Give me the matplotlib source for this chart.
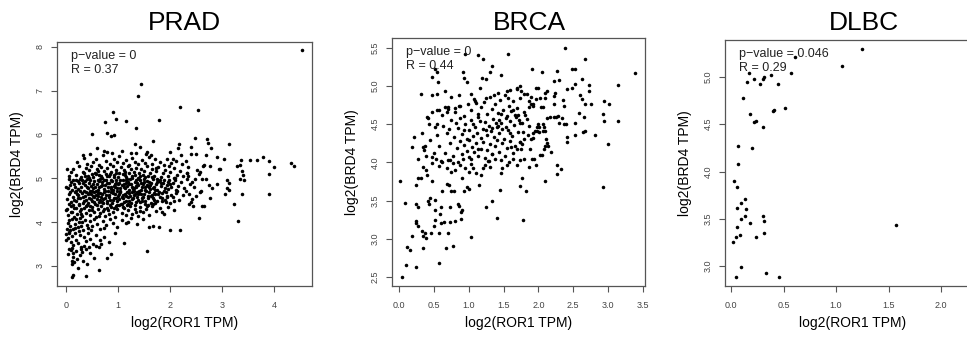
import matplotlib
matplotlib.use('Agg')
import matplotlib.pyplot as plt

plt.rcParams['font.family'] = ['Liberation Sans', 'DejaVu Sans']

# Dados (log2 TPM): (ROR1, BRD4)
prad_pontos = [
    # pontos esparsos / extremos
    (4.54, 7.92), (1.44, 7.15), (1.38, 6.88), (2.20, 6.62), (2.54, 6.56), (0.90, 6.52), (0.97, 6.35),
    (0.76, 6.29), (1.16, 6.30), (1.79, 6.32), (1.35, 6.15), (0.50, 6.00), (0.79, 6.03), (0.87, 5.97),
    (0.93, 5.98), (0.60, 5.68), (1.43, 5.72), (1.67, 5.85), (2.17, 5.79), (2.48, 5.92), (2.15, 5.68),
    (0.33, 5.53), (0.74, 5.63), (0.80, 5.60), (1.08, 5.63), (1.32, 5.78), (1.34, 5.58), (1.54, 5.55),
    (1.56, 5.61), (2.00, 5.61), (2.06, 5.44), (2.21, 5.52), (2.41, 5.56),
    (2.71, 5.89), (2.74, 5.81), (2.40, 5.72), (2.78, 5.68), (3.13, 5.79), (2.50, 5.56), (2.70, 5.54),
    (2.90, 5.48), (3.03, 5.44), (3.37, 5.41), (3.54, 5.41), (3.67, 5.41), (3.79, 5.48), (3.91, 5.39),
    (4.00, 5.25), (4.32, 5.34), (4.38, 5.28), (3.29, 5.28), (3.34, 5.31), (3.39, 5.17), (3.41, 5.08),
    (3.43, 4.95), (3.34, 4.99), (3.90, 5.09), (3.90, 4.64), (3.39, 4.64), (3.23, 4.42), (3.30, 4.02),
    (3.09, 4.96), (3.14, 4.89), (3.10, 4.77), (3.13, 4.74), (3.05, 4.63), (2.94, 5.22), (2.97, 5.21),
    (2.90, 4.87), (2.77, 5.27), (2.63, 5.28), (2.65, 5.31), (2.56, 5.10), (2.57, 5.15), (2.52, 5.19),
    (2.62, 4.99), (2.70, 4.99), (2.75, 4.84), (2.80, 4.77), (2.77, 4.55), (2.59, 4.72), (2.58, 4.69),
    (2.50, 4.59), (2.43, 4.52), (2.40, 4.45), (2.37, 4.42), (2.44, 4.36), (2.61, 4.36), (2.65, 4.36),
    (2.56, 4.10), (2.33, 4.99), (2.35, 5.05), (2.32, 5.13), (2.30, 5.40), (2.34, 5.25), (2.42, 4.92),
    (2.47, 4.80), (2.48, 4.98), (2.38, 4.86), (2.31, 4.70), (2.37, 4.64),
    (1.56, 3.33), (1.12, 3.53), (0.63, 2.90), (0.39, 2.76), (0.12, 2.75), (0.13, 2.78), (0.23, 2.95),
    (0.21, 3.16), (0.38, 3.38), (0.54, 3.19), (0.79, 3.19), (0.87, 3.26), (0.64, 3.42), (0.67, 3.49),
    (0.58, 3.46), (2.00, 3.82), (2.19, 3.82), (1.79, 3.89), (1.60, 3.89), (0.00, 3.59), (0.06, 3.38),
    (0.12, 3.12), (0.14, 3.29), (0.31, 3.31), (0.41, 3.04), (0.35, 3.46), (0.08, 3.82), (0.06, 3.75),
    (0.03, 4.29), (0.10, 4.24), (0.02, 5.21), (0.10, 5.15), (0.06, 4.99), (0.01, 4.81),
    # faixa 5.3 - 5.6
    (0.22, 5.38), (0.35, 5.47), (0.41, 5.32), (0.52, 5.36), (0.58, 5.44), (0.63, 5.31), (0.71, 5.52),
    (0.77, 5.39), (0.84, 5.33), (0.92, 5.45), (0.98, 5.36), (1.03, 5.50), (1.09, 5.34), (1.15, 5.42),
    (1.21, 5.31), (1.27, 5.47), (1.33, 5.38), (1.38, 5.33), (1.46, 5.41), (1.52, 5.35), (1.59, 5.48),
    (1.66, 5.32), (1.72, 5.43), (1.81, 5.37), (1.88, 5.31), (1.95, 5.45), (2.03, 5.34), (2.12, 5.40),
    (2.24, 5.33), (0.47, 5.55), (0.88, 5.58), (1.25, 5.57), (1.63, 5.54),
    # faixa 5.0 - 5.3
    (0.06, 5.05), (0.14, 5.22), (0.19, 5.08), (0.25, 5.27), (0.29, 5.02), (0.33, 5.15), (0.38, 5.24),
    (0.42, 5.06), (0.45, 5.19), (0.49, 5.28), (0.53, 5.03), (0.56, 5.13), (0.60, 5.21), (0.64, 5.08),
    (0.67, 5.26), (0.70, 5.01), (0.73, 5.17), (0.77, 5.10), (0.80, 5.23), (0.83, 5.04), (0.87, 5.14),
    (0.90, 5.29), (0.93, 5.07), (0.96, 5.19), (1.00, 5.02), (1.03, 5.12), (1.06, 5.25), (1.09, 5.09),
    (1.12, 5.18), (1.16, 5.03), (1.19, 5.27), (1.22, 5.11), (1.25, 5.20), (1.28, 5.05), (1.31, 5.15),
    (1.35, 5.24), (1.38, 5.01), (1.41, 5.13), (1.44, 5.22), (1.48, 5.07), (1.51, 5.17), (1.55, 5.28),
    (1.58, 5.04), (1.62, 5.12), (1.66, 5.21), (1.70, 5.06), (1.74, 5.16), (1.78, 5.26), (1.82, 5.02),
    (1.86, 5.11), (1.91, 5.19), (1.96, 5.05), (2.01, 5.14), (2.07, 5.23), (2.13, 5.08), (2.19, 5.17),
    (2.26, 5.04), (2.32, 5.12), (0.36, 5.04), (0.62, 5.16), (0.85, 5.10), (1.14, 5.14), (1.33, 5.08),
    (1.52, 5.02), (1.73, 5.24), (1.98, 5.27), (0.51, 5.10), (0.97, 5.12), (1.43, 5.06), (2.10, 5.01),
    # faixa 4.7 - 5.0
    (0.04, 4.78), (0.09, 4.92), (0.12, 4.73), (0.16, 4.86), (0.20, 4.97), (0.23, 4.75), (0.26, 4.89),
    (0.29, 4.81), (0.31, 4.95), (0.34, 4.72), (0.37, 4.84), (0.40, 4.98), (0.43, 4.77), (0.45, 4.90),
    (0.48, 4.83), (0.51, 4.71), (0.54, 4.94), (0.56, 4.79), (0.59, 4.87), (0.62, 4.74), (0.65, 4.99),
    (0.67, 4.82), (0.70, 4.91), (0.73, 4.76), (0.75, 4.85), (0.78, 4.96), (0.81, 4.72), (0.83, 4.88),
    (0.86, 4.80), (0.89, 4.93), (0.91, 4.74), (0.94, 4.86), (0.97, 4.97), (0.99, 4.78), (1.02, 4.89),
    (1.05, 4.71), (1.07, 4.84), (1.10, 4.95), (1.13, 4.77), (1.15, 4.90), (1.18, 4.82), (1.21, 4.73),
    (1.23, 4.98), (1.26, 4.86), (1.29, 4.75), (1.32, 4.92), (1.34, 4.81), (1.37, 4.88), (1.40, 4.72),
    (1.43, 4.96), (1.46, 4.79), (1.49, 4.87), (1.52, 4.74), (1.55, 4.93), (1.58, 4.83), (1.61, 4.76),
    (1.64, 4.90), (1.67, 4.98), (1.70, 4.80), (1.73, 4.86), (1.76, 4.73), (1.79, 4.94), (1.83, 4.82),
    (1.86, 4.89), (1.90, 4.77), (1.94, 4.85), (1.98, 4.96), (2.02, 4.79), (2.06, 4.88), (2.11, 4.74),
    (2.16, 4.83), (2.21, 4.92), (2.27, 4.78), (0.18, 4.79), (0.33, 4.88), (0.47, 4.96), (0.58, 4.72),
    (0.69, 4.85), (0.80, 4.90), (0.92, 4.82), (1.04, 4.78), (1.16, 4.97), (1.27, 4.80), (1.39, 4.84),
    (1.50, 4.98), (1.62, 4.85), (1.75, 4.91), (1.88, 4.72), (2.00, 4.86), (0.27, 4.72), (0.41, 4.81),
    (0.63, 4.93), (0.87, 4.76), (1.11, 4.87), (1.31, 4.78), (1.53, 4.81), (1.71, 4.74), (1.96, 4.91),
    (2.09, 4.95), (0.74, 4.97), (0.96, 4.89), (1.20, 4.91), (1.45, 4.89), (1.68, 4.77), (0.53, 4.87),
    (1.35, 4.96), (1.81, 4.97), (0.24, 4.94), (0.08, 4.85),
    # faixa 4.4 - 4.7
    (0.02, 4.52), (0.06, 4.63), (0.10, 4.45), (0.13, 4.58), (0.17, 4.68), (0.20, 4.49), (0.23, 4.61),
    (0.26, 4.42), (0.28, 4.55), (0.31, 4.66), (0.34, 4.47), (0.37, 4.59), (0.39, 4.69), (0.42, 4.44),
    (0.45, 4.56), (0.48, 4.64), (0.50, 4.48), (0.53, 4.60), (0.56, 4.41), (0.59, 4.53), (0.61, 4.67),
    (0.64, 4.46), (0.67, 4.57), (0.70, 4.65), (0.72, 4.43), (0.75, 4.54), (0.78, 4.62), (0.80, 4.49),
    (0.83, 4.58), (0.86, 4.69), (0.89, 4.44), (0.92, 4.56), (0.95, 4.63), (0.98, 4.47), (1.01, 4.59),
    (1.04, 4.68), (1.07, 4.42), (1.10, 4.55), (1.13, 4.64), (1.16, 4.48), (1.19, 4.57), (1.22, 4.66),
    (1.25, 4.43), (1.28, 4.52), (1.31, 4.61), (1.34, 4.46), (1.37, 4.58), (1.40, 4.67), (1.43, 4.45),
    (1.46, 4.54), (1.50, 4.63), (1.53, 4.49), (1.57, 4.59), (1.60, 4.68), (1.64, 4.44), (1.68, 4.56),
    (1.72, 4.65), (1.76, 4.47), (1.80, 4.58), (1.85, 4.66), (1.90, 4.51), (1.95, 4.60), (2.00, 4.43),
    (2.05, 4.57), (2.12, 4.66), (2.18, 4.50), (2.26, 4.61), (0.15, 4.50), (0.32, 4.58), (0.44, 4.67),
    (0.57, 4.62), (0.66, 4.50), (0.79, 4.43), (0.90, 4.66), (1.03, 4.52), (1.15, 4.60), (1.27, 4.69),
    (1.39, 4.51), (1.52, 4.42), (1.66, 4.62), (1.79, 4.69), (1.93, 4.45), (0.08, 4.68), (0.24, 4.54),
    (0.49, 4.52), (0.73, 4.68), (0.97, 4.55), (1.21, 4.49), (1.45, 4.65), (1.70, 4.51), (0.38, 4.51),
    (0.62, 4.59), (0.85, 4.51), (1.09, 4.62), (1.33, 4.65), (1.58, 4.54), (1.84, 4.54), (2.08, 4.47),
    (0.55, 4.68), (1.12, 4.45), (1.48, 4.58),
    # faixa 4.1 - 4.4
    (0.01, 4.28), (0.05, 4.17), (0.09, 4.36), (0.12, 4.22), (0.16, 4.12), (0.19, 4.31), (0.22, 4.19),
    (0.25, 4.38), (0.28, 4.25), (0.31, 4.14), (0.35, 4.33), (0.38, 4.21), (0.41, 4.39), (0.44, 4.27),
    (0.47, 4.16), (0.51, 4.34), (0.54, 4.23), (0.58, 4.11), (0.61, 4.30), (0.65, 4.20), (0.68, 4.37),
    (0.72, 4.26), (0.76, 4.13), (0.79, 4.32), (0.83, 4.18), (0.87, 4.35), (0.91, 4.24), (0.95, 4.12),
    (0.99, 4.29), (1.03, 4.38), (1.07, 4.20), (1.11, 4.31), (1.15, 4.15), (1.19, 4.27), (1.24, 4.36),
    (1.28, 4.18), (1.33, 4.29), (1.38, 4.13), (1.43, 4.34), (1.48, 4.22), (1.54, 4.30), (1.60, 4.16),
    (1.66, 4.37), (1.73, 4.25), (1.80, 4.32), (1.88, 4.19), (1.97, 4.35), (2.08, 4.28), (0.14, 4.39),
    (0.30, 4.29), (0.46, 4.37), (0.63, 4.13), (0.81, 4.27), (0.97, 4.37), (1.17, 4.39), (1.35, 4.22),
    (1.57, 4.38), (0.07, 4.05), (0.27, 4.10),
    # faixa 3.8 - 4.1
    (0.02, 3.85), (0.04, 3.97), (0.08, 3.91), (0.11, 4.06), (0.14, 3.83), (0.17, 3.95), (0.20, 4.08),
    (0.23, 3.88), (0.26, 4.01), (0.29, 3.92), (0.33, 3.81), (0.36, 4.04), (0.40, 3.94), (0.43, 3.86),
    (0.47, 4.02), (0.51, 3.90), (0.55, 4.07), (0.60, 3.96), (0.66, 3.84), (0.71, 4.03), (0.77, 3.93),
    (0.84, 4.08), (0.91, 3.98), (0.99, 3.88), (1.07, 4.05), (1.16, 3.97), (1.26, 4.09), (1.37, 3.95),
    (1.49, 4.06), (1.68, 3.92), (0.18, 3.86), (0.31, 3.99), (0.48, 3.82), (0.74, 3.87), (1.20, 4.01),
    # faixa 3.0 - 3.8
    (0.01, 3.72), (0.04, 3.63), (0.06, 3.78), (0.09, 3.55), (0.12, 3.68), (0.14, 3.47), (0.17, 3.74),
    (0.20, 3.60), (0.23, 3.52), (0.27, 3.70), (0.30, 3.44), (0.34, 3.65), (0.38, 3.57), (0.42, 3.76),
    (0.47, 3.62), (0.52, 3.49), (0.58, 3.71), (0.65, 3.58), (0.73, 3.66), (0.82, 3.54), (0.95, 3.75),
    (0.11, 3.41), (0.25, 3.79), (0.44, 3.43),
    (0.05, 3.28), (0.09, 3.36), (0.13, 3.21), (0.16, 3.08), (0.19, 3.33), (0.27, 3.24), (0.33, 3.12),
    (0.46, 3.30), (0.11, 3.05), (0.29, 3.38),
    # núcleo denso (pontos adicionais)
    (0.21, 4.63), (0.27, 4.99), (0.32, 4.44), (0.36, 4.93), (0.39, 4.36), (0.44, 5.01), (0.46, 4.71),
    (0.50, 4.27), (0.52, 4.78), (0.55, 4.57), (0.57, 5.09), (0.60, 4.40), (0.63, 4.81), (0.66, 4.66),
    (0.68, 5.04), (0.71, 4.53), (0.74, 4.30), (0.76, 4.72), (0.79, 5.06), (0.82, 4.61), (0.84, 4.39),
    (0.86, 4.96), (0.88, 4.69), (0.90, 4.50), (0.93, 5.03), (0.95, 4.79), (0.98, 4.40), (1.00, 4.86),
    (1.02, 4.63), (1.05, 4.97), (1.08, 4.58), (1.10, 4.34), (1.12, 4.81), (1.14, 5.07), (1.17, 4.68),
    (1.20, 4.41), (1.22, 4.87), (1.24, 4.60), (1.27, 5.01), (1.30, 4.70), (1.32, 4.38), (1.35, 4.83),
    (1.38, 4.63), (1.41, 4.99), (1.44, 4.74), (1.47, 4.47), (1.50, 4.91), (1.54, 4.71), (1.56, 4.37),
    (1.59, 4.92), (1.63, 4.60), (1.65, 5.03), (1.69, 4.67), (1.72, 4.43), (1.75, 4.98), (1.78, 4.64),
    (1.82, 4.90), (1.85, 4.47), (1.89, 4.97), (1.92, 4.68), (1.97, 4.76), (2.03, 4.62), (2.07, 5.00),
    (2.14, 4.71), (0.15, 4.31), (0.19, 4.71), (0.07, 4.41), (0.13, 4.96), (0.35, 5.11), (0.61, 4.97),
    (0.93, 4.33), (1.18, 4.99), (1.42, 4.26), (1.60, 4.81), (1.84, 4.24), (0.42, 4.63), (0.69, 4.45),
    (0.99, 4.71), (1.29, 4.56), (1.56, 4.85), (0.29, 4.19), (0.54, 4.46), (0.81, 4.81), (1.06, 4.41),
    (1.36, 4.69), (1.67, 4.42), (1.94, 4.57),
]

brca_pontos = [
    # topo e lado esquerdo
    (1.57, 5.42), (1.13, 5.41), (1.20, 5.36), (0.95, 5.42), (0.52, 5.22), (1.33, 5.26), (1.30, 5.19),
    (0.92, 5.19), (0.54, 5.19), (0.47, 5.12), (0.94, 5.10), (1.19, 5.11), (1.25, 5.09), (1.47, 5.14),
    (0.98, 5.05), (0.56, 5.05), (1.16, 4.97), (1.69, 4.97), (1.73, 5.00), (0.66, 4.94), (0.32, 4.89),
    (0.54, 4.90), (0.86, 4.88), (1.03, 4.89), (1.09, 4.80), (1.25, 4.84), (1.42, 4.91), (1.55, 4.94),
    (1.59, 4.95), (0.54, 4.69), (0.48, 4.66), (0.71, 4.73), (0.69, 4.66), (0.81, 4.71), (0.87, 4.74),
    (0.40, 4.60), (0.43, 4.50), (0.54, 4.50), (0.22, 4.33), (0.18, 4.20), (0.35, 4.20), (0.37, 4.21),
    # cauda inferior
    (0.04, 2.50), (0.10, 2.66), (0.24, 2.63), (0.11, 2.89), (0.16, 2.85), (0.58, 2.68), (1.04, 3.02),
    (0.19, 3.03), (0.35, 2.88), (0.67, 2.88), (0.77, 2.91), (0.24, 3.23), (0.25, 3.20), (0.27, 3.17),
    (0.33, 3.10), (0.37, 3.07), (0.46, 3.08), (0.39, 3.01), (0.34, 3.03), (0.50, 3.17), (0.52, 3.24),
    (0.59, 3.33), (0.61, 3.21), (0.65, 3.22), (0.57, 3.07), (0.71, 3.07), (0.73, 3.22), (0.81, 3.23),
    (0.89, 3.26), (0.89, 3.35), (0.91, 3.37), (0.84, 3.45), (0.86, 3.43), (0.73, 3.42), (0.61, 3.42),
    (0.52, 3.38), (0.43, 3.45), (0.41, 3.49), (0.45, 3.53), (0.52, 3.51), (0.08, 3.47), (0.28, 3.42),
    (0.25, 3.46), (0.02, 3.75), (0.24, 3.71), (0.31, 3.80), (0.47, 3.75), (0.62, 3.62), (0.69, 3.72),
    (0.72, 3.70), (0.74, 3.63), (0.79, 3.63), (0.98, 3.68), (0.91, 3.79), (0.94, 3.62), (1.00, 3.65),
    (1.15, 3.70), (1.25, 3.42), (1.34, 3.50), (1.40, 3.27), (1.45, 3.64),
    # faixa 3.8 - 4.1
    (0.50, 4.12), (0.53, 4.05), (0.62, 4.00), (0.57, 3.95), (0.47, 3.99), (0.34, 3.94), (0.28, 3.80),
    (0.40, 3.83), (0.39, 3.90), (0.73, 4.03), (0.69, 3.92), (0.74, 3.88), (0.81, 3.90), (0.78, 3.99),
    (0.85, 4.00), (0.88, 3.96), (0.92, 4.04), (1.00, 4.07), (0.95, 3.93), (1.03, 3.98), (1.01, 3.87),
    (1.06, 3.92), (1.11, 3.86), (1.18, 3.84), (1.21, 3.92), (1.23, 3.97), (1.28, 4.02), (1.31, 3.94),
    (1.33, 4.11), (1.38, 4.04), (1.47, 3.86), (1.48, 3.93), (1.55, 3.96), (1.58, 4.00), (1.63, 4.04),
    (1.69, 3.97), (1.73, 4.03), (1.76, 3.79),
    # nuvem principal, x < 1.75
    (0.62, 4.62), (0.71, 4.70), (0.80, 4.66), (0.86, 4.74), (0.93, 4.61), (0.99, 4.77), (1.04, 4.68),
    (1.08, 4.83), (1.13, 4.64), (1.17, 4.72), (1.22, 4.79), (1.26, 4.63), (1.30, 4.86), (1.34, 4.70),
    (1.38, 4.76), (1.42, 4.65), (1.45, 4.82), (1.49, 4.69), (1.52, 4.88), (1.55, 4.61), (1.58, 4.74),
    (1.61, 4.67), (1.64, 4.80), (1.67, 4.62), (1.70, 4.71), (1.73, 4.85), (1.47, 4.63), (1.63, 4.69),
    (1.71, 4.62), (1.57, 4.85), (1.36, 4.88), (1.11, 4.78),
    (0.55, 4.36), (0.63, 4.48), (0.69, 4.39), (0.75, 4.55), (0.79, 4.33), (0.84, 4.45), (0.88, 4.58),
    (0.91, 4.37), (0.95, 4.50), (0.98, 4.31), (1.01, 4.43), (1.04, 4.56), (1.06, 4.35), (1.09, 4.47),
    (1.12, 4.39), (1.14, 4.59), (1.17, 4.32), (1.20, 4.44), (1.23, 4.53), (1.26, 4.36), (1.29, 4.48),
    (1.32, 4.41), (1.35, 4.57), (1.37, 4.33), (1.40, 4.46), (1.43, 4.38), (1.46, 4.52), (1.48, 4.44),
    (1.51, 4.31), (1.54, 4.58), (1.56, 4.42), (1.59, 4.54), (1.62, 4.35), (1.65, 4.49), (1.68, 4.59),
    (1.71, 4.40), (1.74, 4.52), (1.39, 4.52), (1.42, 4.48), (1.44, 4.56), (1.33, 4.45), (1.25, 4.42),
    (1.53, 4.47), (1.60, 4.38), (1.72, 4.55), (1.06, 4.50), (0.94, 4.42), (1.16, 4.54), (0.72, 4.44),
    (0.82, 4.52),
    (0.58, 4.21), (0.66, 4.12), (0.73, 4.26), (0.78, 4.08), (0.83, 4.19), (0.87, 4.28), (0.90, 4.11),
    (0.94, 4.23), (0.97, 4.15), (1.00, 4.29), (1.03, 4.05), (1.05, 4.20), (1.08, 4.13), (1.11, 4.26),
    (1.14, 4.09), (1.18, 4.18), (1.21, 4.27), (1.24, 4.06), (1.27, 4.16), (1.31, 4.24), (1.34, 4.11),
    (1.38, 4.21), (1.41, 4.29), (1.44, 4.14), (1.48, 4.25), (1.52, 4.08), (1.55, 4.19), (1.59, 4.28),
    (1.63, 4.12), (1.66, 4.22), (1.70, 4.17), (1.73, 4.27), (1.29, 4.02), (1.46, 4.03), (1.61, 4.20),
    (0.70, 4.03), (1.13, 4.17),
    (0.33, 4.39), (0.36, 4.16), (0.41, 4.58), (0.45, 4.29), (0.48, 4.07), (0.52, 4.47), (0.57, 4.69),
    (0.61, 4.02), (0.66, 4.73), (0.74, 4.86), (0.47, 4.88), (0.39, 4.09), (0.28, 4.05),
    # lado direito, x >= 1.7
    (2.38, 5.50), (2.67, 5.36), (1.91, 5.23), (2.05, 5.18), (2.27, 5.20), (2.48, 5.22), (2.53, 5.23),
    (3.38, 5.17), (2.22, 5.07), (2.29, 5.08), (2.63, 5.09), (3.14, 5.01), (2.73, 5.01), (2.72, 4.93),
    (2.41, 4.96), (2.48, 4.97), (2.53, 5.03), (1.97, 4.97), (1.99, 4.97), (2.12, 4.94), (2.24, 4.91),
    (2.60, 4.88), (2.62, 4.83), (2.67, 4.77), (2.75, 4.76), (2.94, 4.80), (3.02, 4.77), (2.35, 4.82),
    (2.37, 4.74), (2.22, 4.87), (2.22, 4.76), (2.58, 4.65), (2.65, 4.59), (2.93, 4.63), (2.94, 4.54),
    (3.14, 4.54), (2.53, 4.51), (2.39, 4.50), (2.64, 4.40), (2.67, 4.41), (2.52, 4.36), (2.81, 4.36),
    (2.41, 4.33), (2.41, 4.27), (3.00, 4.24), (2.93, 3.68), (2.27, 3.96), (2.32, 3.91), (2.27, 3.85),
    (2.09, 3.75), (1.78, 3.24), (1.73, 3.69), (1.82, 3.63), (1.87, 3.94), (1.97, 3.96), (1.79, 4.04),
    (1.91, 4.04), (1.94, 4.04), (2.03, 4.10), (2.05, 4.10), (2.18, 4.13), (2.09, 4.21), (2.08, 4.17),
    (2.14, 4.22), (2.13, 4.26), (2.11, 4.30), (1.88, 4.17), (1.76, 4.24), (1.75, 4.17), (1.73, 4.27),
    (1.89, 4.30), (1.92, 4.32), (1.78, 4.40), (1.98, 4.41), (2.01, 4.40), (2.06, 4.41), (2.09, 4.41),
    (2.22, 4.60), (2.25, 4.60), (2.28, 4.61), (2.17, 4.59), (2.13, 4.58), (2.34, 4.58), (2.29, 4.51),
    (2.37, 4.50), (2.00, 4.50), (2.06, 4.50), (2.01, 4.46), (1.98, 4.46), (2.08, 4.46), (1.93, 4.38),
    (1.95, 4.41), (1.86, 4.73), (1.89, 4.76), (1.87, 4.81), (1.96, 4.83), (1.92, 4.76), (1.93, 4.74),
    (1.90, 4.86), (2.02, 4.85), (2.09, 4.91), (2.10, 4.84), (2.06, 4.73), (2.04, 4.72), (1.75, 4.93),
    (1.79, 4.89), (1.84, 4.89), (1.70, 4.96), (1.80, 4.66), (1.83, 4.57), (1.86, 4.48), (1.77, 4.52),
    (1.81, 4.62), (1.85, 4.36), (1.79, 4.31),
]

dlbc_pontos = [
    (1.25, 5.29), (1.06, 5.12), (0.61, 5.21), (0.57, 5.04), (0.38, 5.02), (0.31, 5.00), (0.30, 4.98),
    (0.22, 4.98), (0.15, 4.95), (0.28, 4.92), (0.45, 4.92), (0.17, 5.04), (0.11, 4.78), (0.40, 4.64),
    (0.41, 4.65), (0.51, 4.67), (0.18, 4.61), (0.22, 4.52), (0.24, 4.53), (0.30, 4.47), (0.07, 4.27),
    (0.20, 4.25), (0.07, 4.08), (0.03, 3.90), (0.06, 3.84), (0.13, 3.71), (0.10, 3.67), (0.06, 3.61),
    (0.14, 3.60), (0.13, 3.53), (0.30, 3.53), (0.10, 3.50), (0.31, 3.48), (0.18, 3.46), (0.06, 3.41),
    (1.57, 3.43), (0.31, 3.35), (0.09, 3.33), (0.05, 3.31), (0.24, 3.31), (0.02, 3.26), (0.10, 2.99),
    (0.05, 2.89), (0.33, 2.93), (0.46, 2.89), (2.27, 4.92),
]

titulos = ['PRAD', 'BRCA', 'DLBC']
p_valores = ['0', '0', '0.046']
r_valores = ['0.37', '0.44', '0.29']
xticks = [[0, 1, 2, 3, 4], [0.0, 0.5, 1.0, 1.5, 2.0, 2.5, 3.0, 3.5], [0.0, 0.5, 1.0, 1.5, 2.0]]
yticks = [[3, 4, 5, 6, 7, 8], [2.5, 3.0, 3.5, 4.0, 4.5, 5.0, 5.5], [3.0, 3.5, 4.0, 4.5, 5.0]]
xtick_fmt = ['{:.0f}', '{:.1f}', '{:.1f}']
ytick_fmt = ['{:.0f}', '{:.1f}', '{:.1f}']
limites_x = [(-0.17, 4.73), (-0.10, 3.53), (-0.057, 2.37)]
limites_y = [(2.54, 8.11), (2.38, 5.63), (2.79, 5.39)]

W, H = 967, 341
# caixas dos eixos em pixels: esquerda, topo, largura, altura
caixas = [(57, 42, 255, 244), (392, 38, 253, 248), (725, 40, 255, 246)]
pos_titulo = [0.50, 0.5415, 0.543]
linha_base_titulo = 30  # pixels a partir do topo

cinza = '#555555'
fig = plt.figure(figsize=(W / 100, H / 100), dpi=100)

for i, pontos in enumerate([prad_pontos, brca_pontos, dlbc_pontos]):
    l, t, w, h = caixas[i]
    ax = fig.add_axes([l / W, (H - t - h) / H, w / W, h / H])
    xs = [p[0] for p in pontos]
    ys = [p[1] for p in pontos]
    ax.scatter(xs, ys, s=6.5, c='black', linewidths=0)
    ax.set_xlim(*limites_x[i])
    ax.set_ylim(*limites_y[i])

    ax.set_xticks(xticks[i])
    ax.set_xticklabels([xtick_fmt[i].format(v) for v in xticks[i]])
    ax.set_yticks(yticks[i])
    ax.set_yticklabels([ytick_fmt[i].format(v) for v in yticks[i]], rotation=90, va='center')
    ax.tick_params(direction='out', length=4, width=0.8, color=cinza, labelsize=6.5,
                   labelcolor='#444444')
    ax.tick_params(axis='x', pad=6.5)
    ax.tick_params(axis='y', pad=5)
    for sp in ax.spines.values():
        sp.set_color(cinza)
        sp.set_linewidth(0.9)

    pad_titulo = (t - linha_base_titulo) * 0.72
    ax.set_title(titulos[i], fontsize=19, pad=pad_titulo, x=pos_titulo[i])
    ax.set_xlabel('log2(ROR1 TPM)', fontsize=10)
    ax.set_ylabel('log2(BRD4 TPM)', fontsize=10)
    ax.xaxis.set_label_coords(0.5, -30 / h)
    ax.yaxis.set_label_coords(-33 / w, 0.5)

    ax.annotate('p\u2212value = ' + p_valores[i], xy=(0, 1), xycoords='axes fraction',
                xytext=(10.4, -5.5), textcoords='offset points', ha='left', va='top',
                fontsize=9, color='#222222')
    ax.annotate('R = ' + r_valores[i], xy=(0, 1), xycoords='axes fraction',
                xytext=(10.4, -15.6), textcoords='offset points', ha='left', va='top',
                fontsize=9, color='#222222')

fig.savefig('out.png', dpi=100)
